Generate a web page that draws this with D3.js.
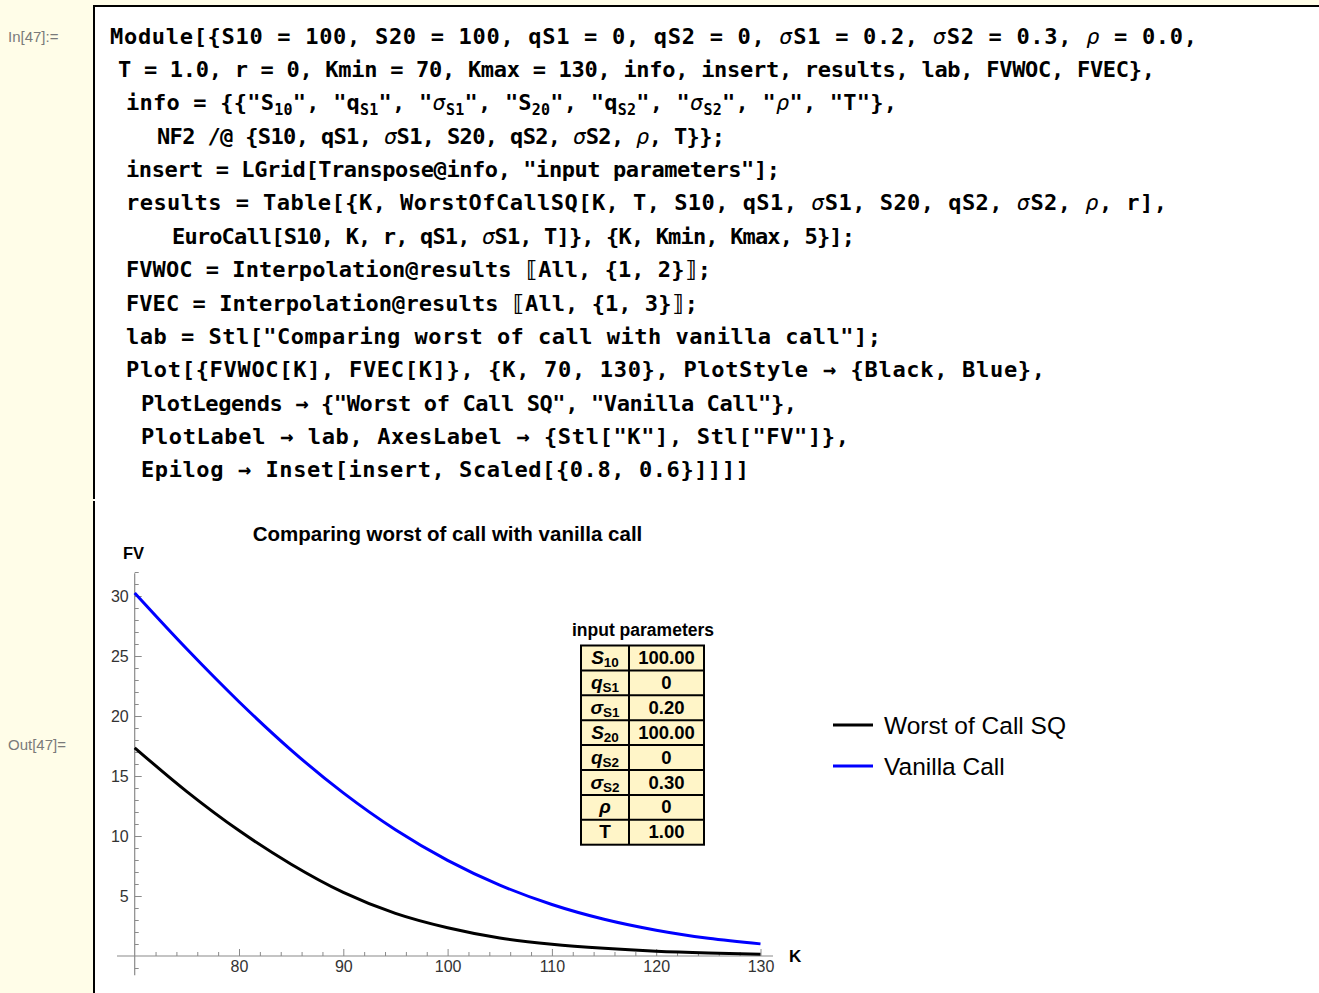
<!DOCTYPE html>
<html>
<head>
<meta charset="utf-8">
<script src="https://cdn.jsdelivr.net/npm/d3@7"></script>
<style>
  body { margin: 0; background: #fffde8; overflow: hidden; }
  svg { display: block; }
</style>
</head>
<body>
<svg id="nb" width="1319" height="993"></svg>
<script>
// ---- notebook text ----
const inLabel = "In[47]:=";
const outLabel = "Out[47]=";
const codeLines = [
  "Module[{S10 = 100, S20 = 100, qS1 = 0, qS2 = 0, σS1 = 0.2, σS2 = 0.3, ρ = 0.0,",
  "T = 1.0, r = 0, Kmin = 70, Kmax = 130, info, insert, results, lab, FVWOC, FVEC},",
  "info = {{\"S_{10}\", \"q_{S1}\", \"σ_{S1}\", \"S_{20}\", \"q_{S2}\", \"σ_{S2}\", \"ρ\", \"T\"},",
  "NF2 /@ {S10, qS1, σS1, S20, qS2, σS2, ρ, T}};",
  "insert = LGrid[Transpose@info, \"input parameters\"];",
  "results = Table[{K, WorstOfCallSQ[K, T, S10, qS1, σS1, S20, qS2, σS2, ρ, r],",
  "EuroCall[S10, K, r, qS1, σS1, T]}, {K, Kmin, Kmax, 5}];",
  "FVWOC = Interpolation@results ⟦All, {1, 2}⟧;",
  "FVEC = Interpolation@results ⟦All, {1, 3}⟧;",
  "lab = Stl[\"Comparing worst of call with vanilla call\"];",
  "Plot[{FVWOC[K], FVEC[K]}, {K, 70, 130}, PlotStyle → {Black, Blue},",
  "PlotLegends → {\"Worst of Call SQ\", \"Vanilla Call\"},",
  "PlotLabel → lab, AxesLabel → {Stl[\"K\"], Stl[\"FV\"]},",
  "Epilog → Inset[insert, Scaled[{0.8, 0.6}]]]]"
];

// ---- chart data ----
const plotTitle = "Comparing worst of call with vanilla call";
const xLabel = "K";
const yLabel = "FV";
const strikes = [70, 75, 80, 85, 90, 95, 100, 105, 110, 115, 120, 125, 130];
const worstOfCall = [17.35, 13.7, 10.45, 7.65, 5.3, 3.55, 2.35, 1.5, 0.98, 0.64, 0.4, 0.25, 0.15];
const vanillaCall = [30.25, 25.58, 21.19, 17.16, 13.59, 10.52, 7.97, 5.91, 4.29, 3.06, 2.15, 1.48, 1.01];
const seriesNames = ["Worst of Call SQ", "Vanilla Call"];
const xTicks = [80, 90, 100, 110, 120, 130];
const yTicks = [5, 10, 15, 20, 25, 30];

// inset table
const insetTitle = "input parameters";
const paramSymbols = [["S", "10"], ["q", "S1"], ["σ", "S1"], ["S", "20"], ["q", "S2"], ["σ", "S2"], ["ρ", ""], ["T", ""]];
const paramValues = ["100.00", "0", "0.20", "100.00", "0", "0.30", "0", "1.00"];

const svg = d3.select("#nb");
const sans = "'Liberation Sans', Arial, sans-serif";
const mono = "'DejaVu Sans Mono', 'Liberation Mono', monospace";

// ---- cell frames ----
svg.append("rect").attr("x", 94).attr("y", 6).attr("width", 1225).attr("height", 987).attr("fill", "#fff");
svg.append("path").attr("d", "M94,499 V6 H1319").attr("fill", "none").attr("stroke", "#000").attr("stroke-width", 2);
svg.append("line").attr("x1", 94).attr("x2", 94).attr("y1", 501).attr("y2", 993)
  .attr("stroke", "#000").attr("stroke-width", 2);

svg.append("text").attr("x", 8).attr("y", 42).text(inLabel)
  .style("font", `15px ${sans}`).attr("fill", "#7a7a7a");
svg.append("text").attr("x", 8).attr("y", 750).text(outLabel)
  .style("font", `15px ${sans}`).attr("fill", "#7a7a7a");

// ---- code lines ----
const codeExtent = [[110, 1197], [118, 1155], [126, 897], [157, 725], [126, 780], [126, 1167], [172, 855],
  [126, 711], [126, 698], [126, 881], [126, 1045], [141, 797], [141, 849], [141, 749]];

codeLines.forEach((line, i) => {
  const t = svg.append("text")
    .attr("x", codeExtent[i][0])
    .attr("y", 43.5 + i * 33.38)
    .attr("textLength", codeExtent[i][1] - codeExtent[i][0])
    .attr("lengthAdjust", "spacing")
    .style("font-family", mono).style("font-size", "22px").style("font-weight", "bold")
    .attr("fill", "#000");
  let down = 0;
  line.split(/(_\{[^}]*\}|[σρ])/).filter(s => s.length).forEach(seg => {
    const ts = t.append("tspan");
    if (seg.startsWith("_{")) {
      ts.text(seg.slice(2, -1)).attr("dy", 5 - down).style("font-size", "15px");
      down = 5;
    } else {
      ts.text(seg).attr("dy", -down);
      down = 0;
      if (seg === "σ" || seg === "ρ") {
        ts.style("font-style", "italic").style("font-weight", "normal");
      }
    }
  });
});

// ---- plot ----
const x = d3.scaleLinear().domain([70, 130]).range([134.7, 760.5]);
const y = d3.scaleLinear().domain([0, 30]).range([956, 596]);
const axisGrey = "#8a8a8a";
const labelGrey = "#333";

const plot = svg.append("g");

// axis lines
plot.append("line").attr("x1", x(68.3)).attr("x2", x(131.2)).attr("y1", y(0)).attr("y2", y(0))
  .attr("stroke", axisGrey).attr("stroke-width", 1.2);
plot.append("line").attr("x1", x(70)).attr("x2", x(70)).attr("y1", y(-1.6)).attr("y2", y(31.9))
  .attr("stroke", axisGrey).attr("stroke-width", 1.2);

// x ticks
const xMinor = d3.range(72, 131, 2).filter(v => v % 10 !== 0);
plot.append("g").attr("transform", `translate(0,${y(0)})`)
  .call(d3.axisBottom(x).tickValues(xMinor).tickSizeInner(-4).tickSizeOuter(0).tickFormat(""))
  .call(g => g.select(".domain").remove())
  .call(g => g.selectAll("line").attr("stroke", axisGrey));
plot.append("g").attr("transform", `translate(0,${y(0)})`)
  .call(d3.axisBottom(x).tickValues(xTicks).tickSizeInner(-7).tickSizeOuter(0).tickPadding(5))
  .call(g => g.select(".domain").remove())
  .call(g => g.selectAll("line").attr("stroke", axisGrey))
  .call(g => g.selectAll("text").attr("fill", labelGrey).style("font", `16px ${sans}`));

// y ticks
const yMinor = d3.range(-1, 33, 1).filter(v => v % 5 !== 0);
plot.append("g").attr("transform", `translate(${x(70)},0)`)
  .call(d3.axisLeft(y).tickValues(yMinor).tickSizeInner(-4).tickSizeOuter(0).tickFormat(""))
  .call(g => g.select(".domain").remove())
  .call(g => g.selectAll("line").attr("stroke", axisGrey));
plot.append("g").attr("transform", `translate(${x(70)},0)`)
  .call(d3.axisLeft(y).tickValues(yTicks).tickSizeInner(-7).tickSizeOuter(0).tickPadding(6))
  .call(g => g.select(".domain").remove())
  .call(g => g.selectAll("line").attr("stroke", axisGrey))
  .call(g => g.selectAll("text").attr("fill", labelGrey).style("font", `16px ${sans}`));

// axis labels and title
plot.append("text").attr("x", 789).attr("y", 962).text(xLabel)
  .style("font", `bold 17px ${sans}`).attr("fill", "#000");
plot.append("text").attr("x", 123).attr("y", 559).text(yLabel)
  .style("font", `bold 16.5px ${sans}`).attr("fill", "#000");
plot.append("text").attr("x", 447.5).attr("y", 541).attr("text-anchor", "middle").text(plotTitle)
  .style("font", `bold 20.5px ${sans}`).attr("fill", "#000");

// curves
const colors = ["#000000", "#0000ff"];
const series = [worstOfCall, vanillaCall].map((vals, i) => ({
  name: seriesNames[i],
  color: colors[i],
  points: strikes.map((k, j) => ({ k: k, v: vals[j] }))
}));
const line = d3.line().x(d => x(d.k)).y(d => y(d.v)).curve(d3.curveMonotoneX);
plot.selectAll("path.curve").data(series).join("path")
  .attr("class", "curve")
  .attr("fill", "none")
  .attr("stroke", d => d.color)
  .attr("stroke-width", 3)
  .attr("d", d => line(d.points));

// ---- inset table ----
const tbl = svg.append("g");
const tx0 = 581, tx1 = 704, tdiv = 629, ty0 = 645.5, rowH = 24.9;
tbl.append("text").attr("x", 643).attr("y", 636).attr("text-anchor", "middle").text(insetTitle)
  .style("font", `bold 17.5px ${sans}`).attr("fill", "#000");
tbl.append("rect").attr("x", tx0).attr("y", ty0).attr("width", tx1 - tx0).attr("height", rowH * paramSymbols.length)
  .attr("fill", "#fff5c8").attr("stroke", "#000").attr("stroke-width", 2);
tbl.append("line").attr("x1", tdiv).attr("x2", tdiv).attr("y1", ty0).attr("y2", ty0 + rowH * paramSymbols.length)
  .attr("stroke", "#000").attr("stroke-width", 2);
paramSymbols.forEach((s, i) => {
  if (i > 0) {
    tbl.append("line").attr("x1", tx0).attr("x2", tx1).attr("y1", ty0 + i * rowH).attr("y2", ty0 + i * rowH)
      .attr("stroke", "#000").attr("stroke-width", 2);
  }
  const by = ty0 + i * rowH + 18.5;
  const sym = tbl.append("text").attr("x", (tx0 + tdiv) / 2).attr("y", by).attr("text-anchor", "middle")
    .style("font-family", sans).style("font-weight", "bold").attr("fill", "#000");
  sym.append("tspan").text(s[0]).style("font-size", "19px")
    .style("font-style", s[0] === "T" ? "normal" : "italic");
  if (s[1]) sym.append("tspan").text(s[1]).attr("dy", 3).style("font-size", "13.5px");
  tbl.append("text").attr("x", (tdiv + tx1) / 2).attr("y", by).attr("text-anchor", "middle")
    .text(paramValues[i]).style("font", `bold 18.5px ${sans}`).attr("fill", "#000");
});

// ---- legend ----
const legend = svg.append("g").attr("transform", "translate(833,725)");
series.forEach((s, i) => {
  const g = legend.append("g").attr("transform", `translate(0,${i * 41})`);
  g.append("line").attr("x1", 0).attr("x2", 40).attr("stroke", s.color).attr("stroke-width", 3);
  g.append("text").attr("x", 51).attr("y", 8.5).text(s.name)
    .style("font", `24.5px ${sans}`).attr("fill", "#000");
});
</script>
</body>
</html>
